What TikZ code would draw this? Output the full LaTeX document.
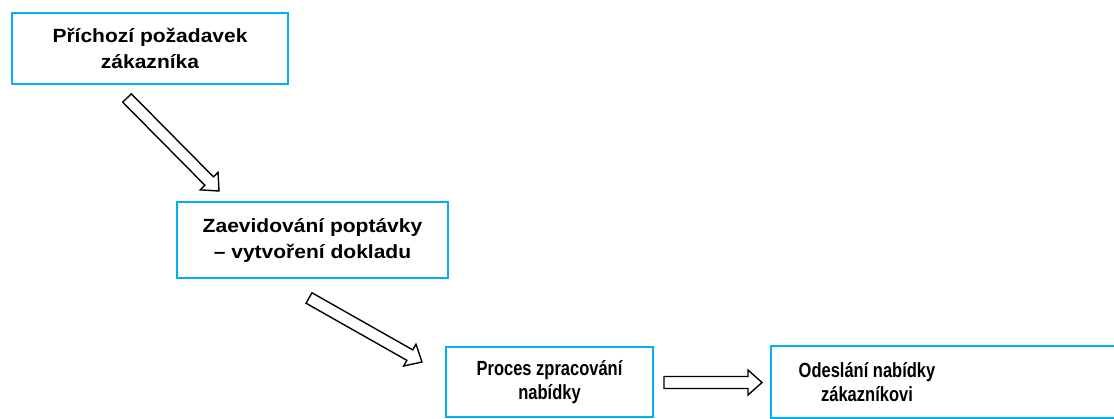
\documentclass[tikz,border=0pt]{standalone}
\usepackage{fontspec}
\setmainfont{Liberation Sans}
\newfontfamily\widesans[FakeStretch=1.10]{Liberation Sans}
\newfontfamily\narrowsans[FakeStretch=0.805]{Liberation Sans}
\usetikzlibrary{calc}
\definecolor{frameblue}{RGB}{0,176,240}

% hollow block arrow from #1 (tail centre) to #2 (tip)
\newcommand{\blockarrow}[2]{%
  \coordinate (hb) at ($(#2)!14pt!(#1)$);
  \draw[blockarr]
    ($(#1)!6pt!90:(#2)$) -- ($(hb)!6pt!90:(#2)$) -- ($(hb)!12.5pt!90:(#2)$)
    -- (#2)
    -- ($(hb)!12.5pt!-90:(#2)$) -- ($(hb)!6pt!-90:(#2)$) -- ($(#1)!6pt!-90:(#2)$)
    -- cycle;
}

\begin{document}
\begin{tikzpicture}[x=1pt,y=-1pt,
  stepbox/.style={draw=frameblue, line width=2pt, fill=white, align=center,
    inner sep=0pt},
  widetext/.style={font=\widesans\bfseries\fontsize{19.1}{26}\selectfont},
  narrowtext/.style={font=\narrowsans\bfseries\fontsize{20.5}{23.4}\selectfont},
  blockarr/.style={draw=black, line width=1.4pt, fill=white, line join=miter}]
  \useasboundingbox (0,0) rectangle (1114,418);
  \clip (0,0) rectangle (1114,418);

  \node[stepbox, widetext, minimum width=276pt, minimum height=71pt] (n1) at (150,48.5)
    {Příchozí požadavek\\zákazníka};
  \node[stepbox, widetext, minimum width=271pt, minimum height=76pt] (n2) at (312.5,240)
    {Zaevidování poptávky\\– vytvoření dokladu};
  \node[stepbox, narrowtext, minimum width=207pt, minimum height=70pt] (n3) at (549.5,382)
    {Proces zpracování\\nabídky};
  \node[stepbox, narrowtext, draw=none, fill=none, minimum width=190pt, minimum height=70pt] (n4) at (867,382)
    {Odeslání nabídky\\zákazníkovi};
  \draw[draw=frameblue, line width=2pt] ([xshift=200pt]n4.north east) -- (n4.north west)
    -- (n4.south west) -- ([xshift=200pt]n4.south east);

  \coordinate (a1s) at ([shift={(116,13)}]n1.south west);
  \coordinate (a1e) at ([shift={(43,-10)}]n2.north west);
  \coordinate (a2s) at ([shift={(133,19)}]n2.south west);
  \coordinate (a2e) at ([shift={(-23,-20)}]n3.west);
  \coordinate (a3s) at ([shift={(10,0.5)}]n3.east);
  \coordinate (a3e) at ([shift={(-9,0.5)}]n4.west);

  \blockarrow{a1s}{a1e}
  \blockarrow{a2s}{a2e}
  \blockarrow{a3s}{a3e}
\end{tikzpicture}
\end{document}
